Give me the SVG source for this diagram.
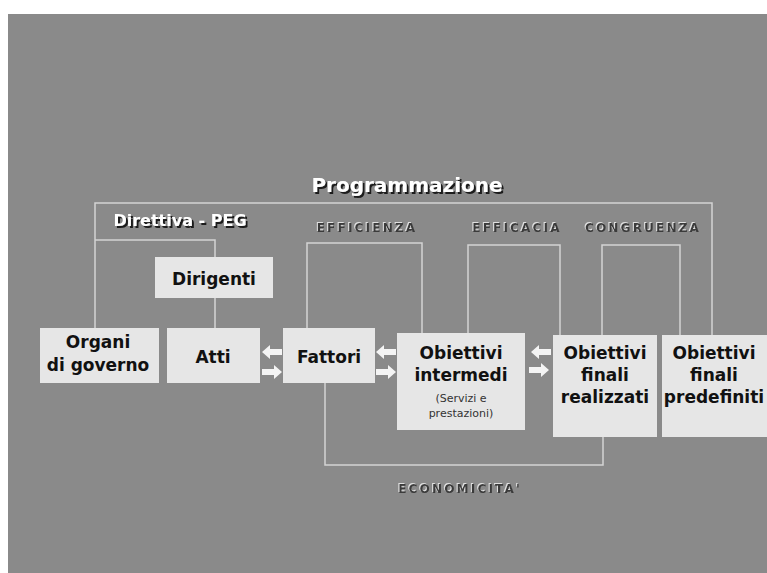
<svg xmlns="http://www.w3.org/2000/svg" xmlns:xlink="http://www.w3.org/1999/xlink" width="767" height="573" viewBox="0 0 767 573">
  <style>
    .bg { fill: #8a8a8a; }
    .box { fill: #e6e6e6; }
    .lbl { font-family: "DejaVu Sans", Verdana, sans-serif; font-weight: bold; font-size: 17px; fill: #111; text-anchor: middle; }
    .sub { font-family: "DejaVu Sans", Verdana, sans-serif; font-size: 11px; fill: #333; text-anchor: middle; }
    .title { font-family: "DejaVu Sans", Verdana, sans-serif; font-weight: bold; text-anchor: middle; fill: #ffffff; filter: url(#shadowDark); }
    .cap { font-family: "DejaVu Sans", Verdana, sans-serif; font-weight: bold; font-size: 12px; letter-spacing: 2.2px; text-anchor: middle; fill: #3a3a3a; filter: url(#shadowLight); }
    .br { fill: none; stroke: #d4d4d4; stroke-width: 1.5; }
    .arr { fill: #f4f4f4; }
  </style>
  <defs>
    <path id="arrowR" d="M0,-3 H12 V-7 L20,0 L12,7 V3 H0 Z"/>
    <filter id="shadowDark" x="-10%" y="-30%" width="120%" height="160%">
      <feDropShadow dx="2" dy="2" stdDeviation="0.4" flood-color="#1a1a1a" flood-opacity="1"/>
    </filter>
    <filter id="shadowLight" x="-10%" y="-30%" width="120%" height="160%">
      <feDropShadow dx="-1" dy="-1" stdDeviation="0.2" flood-color="#e0e0e0" flood-opacity="1"/>
    </filter>
  </defs>

  <rect x="0" y="0" width="767" height="573" fill="#ffffff"/>
  <rect class="bg" x="8" y="14" width="759" height="559"/>

  <g id="connectors">
    <path class="br" d="M95,330 V203 H712 V335"/>
    <path class="br" d="M95,240 H215 V257"/>
    <path class="br" d="M215,298 V328"/>
    <path class="br" d="M307,328 V243 H422 V333"/>
    <path class="br" d="M468,333 V245 H560 V335"/>
    <path class="br" d="M602,335 V245 H680 V335"/>
    <path class="br" d="M325,383 V465 H603 V437"/>
    <use href="#arrowR" class="arr" transform="translate(282,352) scale(-1,1)"/>
    <use href="#arrowR" class="arr" transform="translate(262,372)"/>
    <use href="#arrowR" class="arr" transform="translate(396,352) scale(-1,1)"/>
    <use href="#arrowR" class="arr" transform="translate(376,372)"/>
    <use href="#arrowR" class="arr" transform="translate(551,352) scale(-1,1)"/>
    <use href="#arrowR" class="arr" transform="translate(529,370)"/>
  </g>

  <g id="label-programmazione">
    <text class="title" x="407" y="192" font-size="20">Programmazione</text>
  </g>
  <g id="label-direttiva">
    <text class="title" x="180" y="226" font-size="16">Direttiva - PEG</text>
  </g>
  <g id="label-efficienza">
    <text class="cap" x="367" y="232">EFFICIENZA</text>
  </g>
  <g id="label-efficacia">
    <text class="cap" x="517" y="232">EFFICACIA</text>
  </g>
  <g id="label-congruenza">
    <text class="cap" x="643" y="232">CONGRUENZA</text>
  </g>
  <g id="label-economicita">
    <text class="cap" x="460" y="493" letter-spacing="3">ECONOMICITA'</text>
  </g>

  <g id="node-dirigenti">
    <rect class="box" x="155" y="257" width="118" height="41"/>
    <text class="lbl" x="214" y="285">Dirigenti</text>
  </g>
  <g id="node-organi">
    <rect class="box" x="40" y="328" width="119" height="55"/>
    <text class="lbl" x="98" y="348">Organi</text>
    <text class="lbl" x="98" y="371">di governo</text>
  </g>
  <g id="node-atti">
    <rect class="box" x="167" y="328" width="93" height="55"/>
    <text class="lbl" x="213" y="363">Atti</text>
  </g>
  <g id="node-fattori">
    <rect class="box" x="283" y="328" width="92" height="55"/>
    <text class="lbl" x="329" y="363">Fattori</text>
  </g>
  <g id="node-obiettivi-intermedi">
    <rect class="box" x="397" y="333" width="128" height="97"/>
    <text class="lbl" x="461" y="359">Obiettivi</text>
    <text class="lbl" x="461" y="381">intermedi</text>
    <text class="sub" x="461" y="402">(Servizi e</text>
    <text class="sub" x="461" y="417">prestazioni)</text>
  </g>
  <g id="node-obiettivi-realizzati">
    <rect class="box" x="553" y="335" width="104" height="102"/>
    <text class="lbl" x="605" y="359">Obiettivi</text>
    <text class="lbl" x="605" y="381">finali</text>
    <text class="lbl" x="605" y="403">realizzati</text>
  </g>
  <g id="node-obiettivi-predefiniti">
    <rect class="box" x="662" y="335" width="105" height="102"/>
    <text class="lbl" x="714" y="359">Obiettivi</text>
    <text class="lbl" x="714" y="381">finali</text>
    <text class="lbl" x="714" y="403">predefiniti</text>
  </g>
</svg>
